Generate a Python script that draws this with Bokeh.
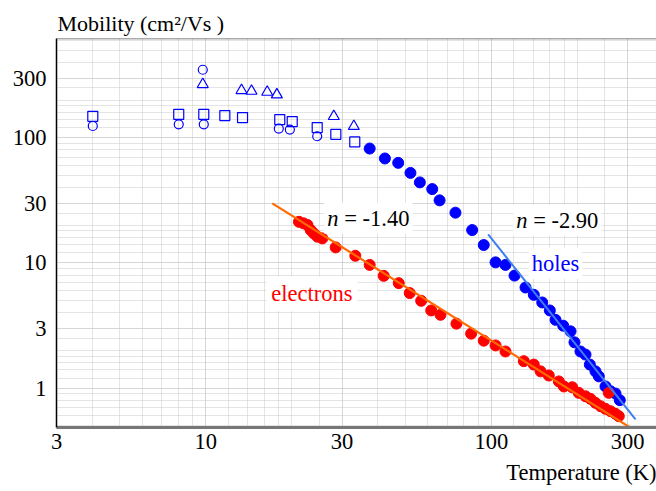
from bokeh.plotting import figure
from bokeh.models import FixedTicker, Label, Span, BasicTickFormatter, Title
from bokeh.embed import file_html
from bokeh.resources import INLINE

# ---------------- data ----------------
# holes, filled blue dots
hole_T = [37.5, 42.4, 47.2, 52.1, 56.2, 62.1, 65.9, 74.9, 85.7, 94.1,
          103.5, 112.1, 120.6, 131.8, 140.9, 150.8, 160.3, 167.9, 178.6, 189.5,
          195.6, 205.3, 213.8, 221.4, 231.7, 238.0, 251.2, 261.6, 272.3, 281.9]
hole_mu = [82.0, 68.3, 63.0, 52.4, 44.0, 38.9, 31.6, 25.2, 18.3, 13.9,
           10.1, 9.64, 7.92, 6.36, 5.56, 4.83, 4.17, 3.51, 3.15, 2.84,
           2.32, 1.96, 1.85, 1.54, 1.36, 1.24, 1.03, 0.943, 0.904, 0.80]

# electrons, filled red dots
elec_T = [21.2, 22.0, 22.7, 23.3, 23.9, 24.6, 25.6, 28.5, 33.4, 37.5,
          42.0, 47.4, 51.8, 56.8, 61.6, 66.4, 75.5, 85.0, 94.1, 103.5,
          112.1, 130.0, 140.9, 148.8, 159.0, 172.4, 179.5, 192.1, 202.5, 213.8,
          222.6, 231.7, 241.3, 251.2, 261.6, 272.3, 279.6, 258.0]
elec_mu = [21.3, 20.7, 20.1, 18.3, 17.2, 16.2, 15.7, 13.3, 11.4, 9.64,
           7.88, 6.89, 5.74, 4.98, 4.17, 3.85, 3.27, 2.72, 2.39, 2.19,
           1.96, 1.64, 1.54, 1.36, 1.26, 1.13, 1.03, 1.015, 0.916, 0.86,
           0.82, 0.762, 0.716, 0.683, 0.653, 0.623, 0.596, 0.916]

# low-temperature hole data, open markers
sq_T = [4.02, 8.04, 9.84, 11.66, 13.45, 18.16, 20.08, 24.56, 28.54, 33.25]
sq_mu = [148.4, 153.9, 153.9, 150.3, 144.9, 139.6, 134.6, 120.6, 106.6, 92.6]
circ_T = [4.02, 8.04, 9.76, 9.84, 18.02, 19.7, 24.56]
circ_mu = [124.2, 128.1, 349.5, 128.1, 118.4, 116.2, 102.8]
tri_T = [9.76, 13.34, 14.46, 16.41, 17.74, 28.08, 33.0]
tri_mu = [266.9, 239.1, 236.0, 231.7, 220.9, 148.4, 123.5]

# power-law fit lines (end points)
e_fit_T = [17.1, 314.0]
e_fit_mu = [29.9, 0.467]
h_fit_T = [97.5, 320.0]
h_fit_mu = [16.9, 0.561]

# axes
x_ticks = [3, 10, 30, 100, 300]
x_tick_labels = ["3", "10", "30", "100", "300"]
y_ticks = [1, 3, 10, 30, 100, 300]
y_tick_labels = ["1", "3", "10", "30", "100", "300"]
mant = [1, 1.2, 1.4, 1.6, 1.8, 2, 2.5, 3, 4, 5, 6, 7, 8, 9]
x_minor = [m * d for d in [1, 10, 100] for m in mant if 3 <= m * d <= 400]
y_minor = [m * d for d in [0.1, 1, 10, 100] for m in mant if 0.45 <= m * d <= 650]

FONT = "Liberation Serif"
FS = "22.5px"
BLUE = "#0000ff"
RED = "#ff0000"

p = figure(width=656, height=491, x_axis_type="log", y_axis_type="log",
           x_range=(3, 379), y_range=(0.484, 621),
           output_backend="svg", toolbar_location=None,
           min_border_left=56, min_border_right=0, min_border_top=38, min_border_bottom=63)
p.background_fill_color = "white"
p.border_fill_color = "white"
p.outline_line_color = None

p.title.text = "Mobility (cm²/Vs )"
p.title.align = "left"
p.title.offset = 1
p.title.standoff = 5
p.title.text_font = FONT
p.title.text_font_size = "22px"
p.title.text_font_style = "normal"
p.title.text_color = "black"

p.add_layout(Title(text="Temperature (K)", align="right", text_font=FONT, text_font_size=FS,
                   text_font_style="normal", text_color="black", standoff=13), "below")

xt = FixedTicker(ticks=x_ticks, minor_ticks=x_minor)
yt = FixedTicker(ticks=y_ticks, minor_ticks=y_minor)
p.xaxis.ticker = xt
p.yaxis.ticker = yt
p.xgrid.ticker = xt
p.ygrid.ticker = yt
for ax in (p.xaxis, p.yaxis):
    ax.formatter = BasicTickFormatter(use_scientific=False)
    ax.major_tick_out = 0
    ax.major_tick_in = 0
    ax.minor_tick_out = 0
    ax.minor_tick_in = 0
    ax.major_label_text_font = FONT
    ax.major_label_text_font_size = FS
    ax.major_label_text_color = "black"
p.xaxis.major_label_overrides = dict(zip(x_ticks, x_tick_labels))
p.yaxis.major_label_overrides = dict(zip(y_ticks, y_tick_labels))
p.xaxis.axis_line_color = "#777777"
p.xaxis.axis_line_width = 3
p.yaxis.axis_line_color = "black"
p.yaxis.axis_line_width = 1.5
p.xaxis.major_label_standoff = 6
p.yaxis.major_label_standoff = 10

for g in (p.xgrid, p.ygrid):
    g.grid_line_color = "#c8c8c8"
    g.grid_line_dash = "1 1"
    g.grid_line_width = 1
    g.minor_grid_line_color = "#c8c8c8"
    g.minor_grid_line_dash = "1 1"
    g.minor_grid_line_width = 1

p.add_layout(Span(location=621, dimension="width", line_color="#555555", line_width=1.5))

# markers
p.scatter(sq_T, sq_mu, marker="square", size=10, fill_color=None, line_color=BLUE, line_width=1.2)
p.scatter(circ_T, circ_mu, marker="circle", size=9, fill_color=None, line_color=BLUE, line_width=1.2)
p.scatter(tri_T, tri_mu, marker="triangle", size=11, fill_color=None, line_color=BLUE, line_width=1.2)
p.scatter(hole_T, hole_mu, marker="circle", size=11, fill_color=BLUE, line_color=BLUE)
p.scatter(elec_T, elec_mu, marker="circle", size=11, fill_color=RED, line_color=RED)
p.line(e_fit_T, e_fit_mu, line_color="#ff6a00", line_width=2.2)
p.line(h_fit_T, h_fit_mu, line_color="#3d7ef2", line_width=2)

def lab(x, y, text, color="black", style="normal", xoff=0, pad=3, bg="white"):
    p.add_layout(Label(x=x, y=y, text=text, x_offset=xoff, text_font=FONT, text_font_size=FS,
                       text_color=color, text_font_style=style, text_baseline="alphabetic",
                       background_fill_color=bg, padding=pad))

lab(26.0, 22.7, "n", style="italic")
lab(26.0, 22.7, "= -1.40", xoff=17)
lab(119.3, 22.0, "n", style="italic")
lab(119.3, 22.0, "= -2.90", xoff=17)
lab(135.3, 9.95, "holes", color=BLUE)
lab(16.3, 5.66, "electrons", color=RED, pad=5)

open("out.html", "w").write(file_html(p, INLINE))
